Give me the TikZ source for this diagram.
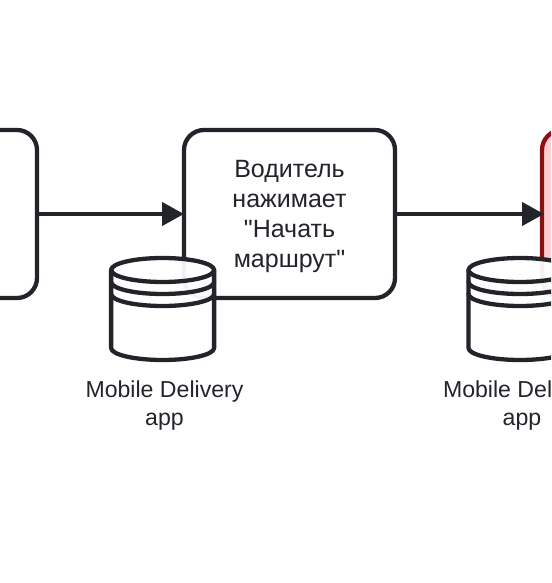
\documentclass[tikz,border=0pt]{standalone}
\usepackage{fontspec}
\newfontfamily\plainsans{Liberation Sans}
\usetikzlibrary{arrows.meta}
\definecolor{ink}{HTML}{22242A}
\definecolor{redline}{HTML}{8B1010}
\definecolor{redfill}{HTML}{FFCDD2}
\tikzset{
  x=1pt,y=-1pt,
  procbox/.style={draw=ink,line width=4.3pt,rounded corners=20pt,fill=white,minimum height=168pt,outer sep=0pt,inner sep=0pt,align=center,text=ink,font=\plainsans\fontsize{25}{30}\selectfont},
  alertbox/.style={procbox,draw=redline,fill=redfill},
  flow/.style={draw=ink,line width=4.3pt,-{Triangle[length=22pt,width=23pt]}},
  dbshape/.style={fill=white,fill opacity=.94},
  dbline/.style={draw=ink,line width=4.3pt,line join=round,line cap=round},
  dblabel/.style={align=center,text=ink,inner sep=0pt,font=\plainsans\fontsize{23.1}{28}\selectfont},
}
% outline of the drum: centre x, top-ellipse centre y
\newcommand{\dbcyl}[2]{%
  \path[dbshape] (#1-51.5,#2) .. controls (#1-51.5,#2-6.6) and (#1-28.4,#2-12) .. (#1,#2-12)
    .. controls (#1+28.4,#2-12) and (#1+51.5,#2-6.6) .. (#1+51.5,#2)
    -- (#1+51.5,#2+78) .. controls (#1+51.5,#2+84.6) and (#1+28.4,#2+90) .. (#1,#2+90)
    .. controls (#1-28.4,#2+90) and (#1-51.5,#2+84.6) .. (#1-51.5,#2+78) -- cycle;
  \path[dbline] (#1-51.5,#2) .. controls (#1-51.5,#2-6.6) and (#1-28.4,#2-12) .. (#1,#2-12)
    .. controls (#1+28.4,#2-12) and (#1+51.5,#2-6.6) .. (#1+51.5,#2)
    -- (#1+51.5,#2+78) .. controls (#1+51.5,#2+84.6) and (#1+28.4,#2+90) .. (#1,#2+90)
    .. controls (#1-28.4,#2+90) and (#1-51.5,#2+84.6) .. (#1-51.5,#2+78) -- cycle;
  \foreach \off in {0,12,24}{%
    \path[dbline] (#1-51.5,#2+\off) .. controls (#1-51.5,#2+\off+6.6) and (#1-28.4,#2+\off+12) .. (#1,#2+\off+12)
      .. controls (#1+28.4,#2+\off+12) and (#1+51.5,#2+\off+6.6) .. (#1+51.5,#2+\off);
  }%
}
\begin{document}
\begin{tikzpicture}
\useasboundingbox (0,0) rectangle (551,583);
\clip (0,0) rectangle (551,583);
\node[procbox,minimum width=137pt] (prev) at (-31.5,214) {};
\node[procbox,minimum width=211pt] (start) at (289.5,214) {\raisebox{0pt}[\dimexpr\height+4pt\relax]{\begin{tabular}{@{}c@{}}Водитель\\нажимает\\"Начать\\маршрут"\end{tabular}}};
\node[alertbox,minimum width=211pt] (next) at (647.5,214) {};
\draw[flow] (prev) -- (start);
\draw[flow,shorten >=-2pt] (start) -- (next);
\dbcyl{162.6}{270}
\dbcyl{520}{270}
\node[dblabel] (dbone) at (164.5,406) {Mobile Delivery\\app};
\node[dblabel] (dbtwo) at (522,406) {Mobile Delivery\\app};
\end{tikzpicture}
\end{document}
